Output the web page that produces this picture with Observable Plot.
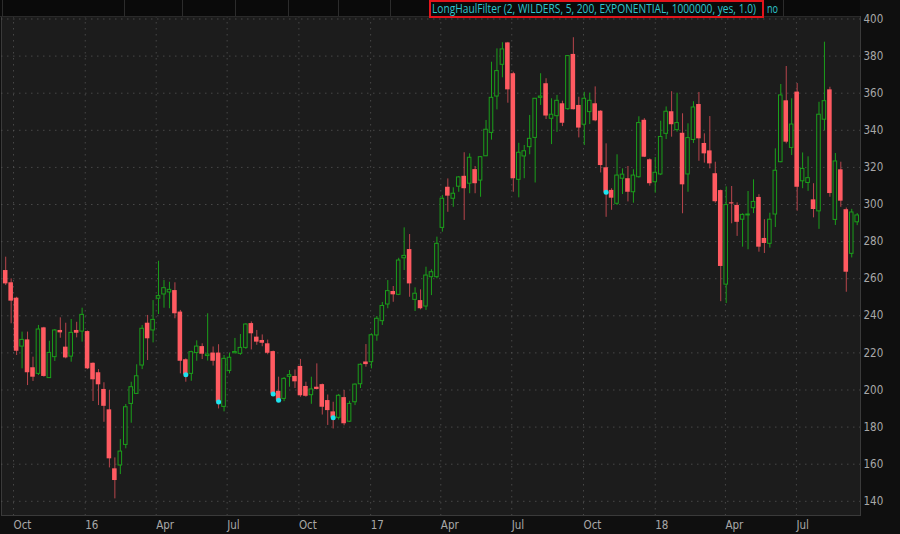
<!DOCTYPE html>
<html><head><meta charset="utf-8">
<script src="https://cdn.jsdelivr.net/npm/d3@7"></script>
<script src="https://cdn.jsdelivr.net/npm/@observablehq/plot@0.6"></script>
<style>
html,body{margin:0;padding:0;background:#0f0f0f;}
#wrap{position:relative;width:900px;height:534px;overflow:hidden;}
#chart{position:absolute;left:0;top:0;}
#header{position:absolute;left:0;top:0;width:860px;height:16px;background:#0a0a0a;border-bottom:1px solid #2a2a2a;}
.sep{position:absolute;top:0;height:16px;width:1px;background:#2c2c2c;}
#study{position:absolute;left:429px;top:0px;width:331px;height:14px;border:2px solid #e3141b;}
.htext{position:absolute;left:1px;top:-1px;color:#2fc7cf;font-family:"Open Sans",sans-serif;font-size:12px;line-height:16px;white-space:nowrap;transform-origin:0 50%;}
#no{position:absolute;left:767px;top:1px;height:14px;width:14px;}
#no .htext{left:0;top:0px;}
</style></head>
<body>
<div id="wrap">
<div id="chart"></div>
<div id="header"></div>
</div>
<script>
// weekly candles, first week starting 2015-09-21
const firstWeek = "2015-09-21";
const open = [264.4,257.8,249.5,223.4,227.0,212.0,208.7,233.5,206.4,217.7,
232.1,223.1,218.0,232.1,231.5,231.5,214.4,209.3,200.3,189.3,
157.5,159.3,170.4,192.5,197.9,213.2,236.0,232.1,249.2,251.5,
252.6,253.6,242.0,216.3,208.7,219.9,223.4,218.3,219.9,219.9,
190.9,210.3,219.8,219.5,222.7,235.8,228.5,226.7,224.9,220.7,
199.3,195.2,207.1,207.3,212.7,201.9,197.2,201.5,202.9,194.3,
188.2,185.0,195.9,182.9,193.4,203.1,215.1,215.0,229.4,237.1,
246.1,253.1,251.3,271.0,275.7,248.6,248.2,245.0,260.8,260.8,
287.4,309.3,303.1,309.6,315.2,311.2,318.8,312.9,326.0,338.6,
358.2,375.3,387.1,370.5,313.3,325.9,330.9,335.9,357.5,365.1,
346.2,347.6,354.3,351.4,380.9,353.4,343.0,349.8,354.3,350.3,
319.8,307.6,300.4,313.9,313.9,306.6,314.7,345.4,324.1,312.0,
316.2,338.1,350.0,340.1,338.4,316.2,334.8,353.9,332.9,328.9,
316.6,307.5,256.8,300.9,299.5,291.8,294.1,298.0,303.8,281.7,
278.8,294.6,322.8,355.9,330.5,360.6,312.5,311.6,302.5,296.3,
345.7,361.8,291.7,318.7,297.2,273.4,290.4];
const high = [271.6,259.9,250.0,231.2,231.2,217.7,234.8,233.8,226.3,232.6,
238.9,236.0,238.0,236.5,244.1,231.8,214.6,211.0,203.9,199.7,
163.4,173.3,192.2,204.2,213.6,234.8,240.2,248.2,269.4,259.0,
258.1,257.8,242.9,216.8,220.9,226.5,224.9,241.1,223.2,224.4,
218.6,219.8,227.8,229.9,235.7,236.7,232.1,229.7,226.9,221.0,
206.9,206.7,210.5,210.8,216.5,204.2,206.9,214.1,203.2,197.3,
193.4,197.6,199.7,193.9,203.3,214.1,224.5,230.3,239.6,247.2,
259.0,255.8,271.0,287.4,283.8,255.1,254.0,266.2,264.8,282.4,
304.9,313.8,309.0,315.1,327.9,327.3,320.5,325.9,345.3,376.7,
383.9,387.2,387.4,371.3,333.0,331.8,348.0,357.1,370.5,367.8,
357.0,358.8,355.7,380.3,389.9,357.8,360.5,360.0,363.4,350.6,
332.7,308.5,326.8,319.2,320.5,318.7,347.3,346.3,324.6,325.3,
344.9,352.6,360.8,360.0,348.9,343.5,355.4,360.4,338.1,347.4,
322.8,307.8,309.5,309.7,300.9,295.0,307.0,313.3,305.3,291.8,
295.3,330.0,364.7,374.4,357.0,365.2,327.8,325.7,311.2,355.1,
387.5,363.2,327.5,322.8,298.1,297.4,295.1];
const low = [256.3,235.7,218.6,211.4,202.4,204.6,207.8,206.9,206.4,215.4,
227.9,216.8,215.0,228.1,225.8,211.0,193.8,191.6,182.6,158.0,
141.3,154.4,168.3,182.1,197.6,211.0,215.9,225.4,240.7,244.1,
243.8,238.4,208.7,204.2,204.7,215.5,216.4,215.6,212.9,189.8,
188.2,208.7,219.6,218.7,221.9,221.6,224.1,223.3,219.0,197.2,
194.1,193.7,201.5,200.8,196.1,196.1,192.3,200.0,186.5,180.9,
179.0,183.8,180.7,182.5,191.6,200.8,212.3,211.4,226.3,234.8,
243.8,247.3,250.9,264.4,250.0,242.3,243.2,242.9,250.9,259.9,
285.1,295.8,298.5,306.6,291.4,305.8,305.8,303.9,325.8,334.7,
351.0,368.3,354.6,306.6,303.6,313.9,326.8,311.6,353.4,345.8,
332.3,338.9,342.0,350.7,351.0,335.9,331.8,343.1,344.6,317.0,
293.1,296.9,299.5,305.4,301.4,300.7,314.2,325.3,309.9,306.1,
315.6,335.0,336.3,339.0,295.0,306.6,332.9,323.3,322.3,319.2,
300.7,247.6,246.6,289.6,282.8,277.0,275.6,295.1,274.3,273.6,
276.5,287.6,322.5,332.7,326.4,296.4,308.5,307.1,292.8,286.6,
339.7,303.9,288.7,298.5,252.7,271.2,288.6];
const close = [257.2,247.9,220.9,227.0,209.3,206.9,232.6,207.3,220.0,232.1,
230.8,217.3,230.8,230.6,240.5,211.4,205.5,202.8,191.2,162.9,
151.2,166.8,190.7,201.5,207.4,233.0,227.6,237.8,250.6,254.9,
254.0,241.1,215.5,208.2,220.4,223.4,219.3,219.1,215.5,193.5,
216.8,217.4,220.5,222.7,235.3,230.3,225.8,225.2,219.8,197.9,
194.5,206.0,208.0,204.4,196.9,196.6,200.3,200.3,190.7,188.9,
185.0,196.9,181.8,192.5,202.9,213.6,213.7,229.5,238.4,245.3,
253.3,251.3,269.8,272.3,257.2,251.9,243.8,261.7,263.5,278.8,
303.1,304.5,305.8,314.6,308.5,325.2,311.2,325.5,340.3,357.5,
371.9,383.6,361.8,313.9,327.9,328.7,335.4,357.0,358.2,347.7,
348.4,355.9,343.8,380.0,351.1,341.2,357.0,355.9,345.1,321.0,
306.6,303.4,315.6,316.1,306.6,315.6,343.9,325.5,311.2,317.1,
336.4,350.0,343.0,343.9,310.6,335.8,352.3,335.4,327.3,321.9,
301.5,266.6,299.7,300.3,290.4,294.4,294.6,301.4,277.0,279.0,
291.8,318.2,358.8,333.6,343.1,309.3,319.2,314.2,297.3,348.4,
355.7,305.9,323.2,301.8,263.5,295.7,294.1];
// weeks (index) where the LongHaulFilter study marks a signal
const signalWeeks = [33, 39, 49, 50, 60, 110];
// axes
const yTicks = [140,160,180,200,220,240,260,280,300,320,340,360,380,400];
const quarterDates = ["2015-10-01","2016-01-01","2016-04-01","2016-07-01","2016-10-01","2017-01-01","2017-04-01","2017-07-01","2017-10-01","2018-01-01","2018-04-01","2018-07-01"];
const quarterLabels = ["Oct","16","Apr","Jul","Oct","17","Apr","Jul","Oct","18","Apr","Jul"];
const studyLabel = "LongHaulFilter (2, WILDERS, 5, 200, EXPONENTIAL, 1000000, yes, 1.0)";
const studyValue = "no";
const headerCells = [2, 124, 182, 235, 288, 338, 390, 783];

const start = new Date(firstWeek + "T00:00:00Z");
const candles = open.map((o, i) => ({
  date: d3.utcDay.offset(start, 7 * i),
  open: o, high: high[i], low: low[i], close: close[i],
  up: close[i] >= open[i], signal: signalWeeks.includes(i)
}));
const qDates = quarterDates.map(s => new Date(s + "T00:00:00Z"));
const qLabel = new Map(qDates.map((d, i) => [+d, quarterLabels[i]]));
const half = 3.5 * 864e5;
const GREEN = "#1b9f1b", RED = "#ff5a61", REDWICK = "#b8454c", BG = "#1c1c1c", CYAN = "#1fe3ef";
const font = '"Liberation Sans Narrow","DejaVu Sans Condensed","Open Sans",sans-serif';

const up = candles.filter(d => d.up), down = candles.filter(d => !d.up);
const chart = Plot.plot({
  width: 900, height: 534,
  marginTop: 16, marginBottom: 19, marginLeft: 1, marginRight: 40,
  style: {background: "#0f0f0f", color: "#a8a8a8", fontFamily: font, fontSize: "11.5px", fontStretch: "condensed"},
  x: {type: "utc", domain: [candles[0].date, candles[candles.length - 1].date], range: [5.2, 856.7]},
  y: {domain: [140, 400], range: [500.8, 18.5]},
  marks: [
    Plot.frame({fill: BG, stroke: "#3a3a3a"}),
    Plot.gridY(yTicks, {stroke: "#5a5a5a", strokeOpacity: 0.7, strokeDasharray: "1.5,4.5"}),
    Plot.gridX(qDates, {stroke: "#5a5a5a", strokeOpacity: 0.7, strokeDasharray: "1.5,4.5"}),
    Plot.ruleX(down, {x: "date", y1: "low", y2: "high", stroke: REDWICK, strokeWidth: 1}),
    Plot.ruleX(up, {x: "date", y1: "low", y2: "high", stroke: GREEN, strokeWidth: 1}),
    Plot.rect(down, {x1: d => new Date(+d.date - half), x2: d => new Date(+d.date + half), y1: "open", y2: "close", fill: RED, insetLeft: 0.45, insetRight: 0.45}),
    Plot.rect(up, {x1: d => new Date(+d.date - half), x2: d => new Date(+d.date + half), y1: "open", y2: "close", fill: BG, stroke: GREEN, strokeWidth: 1, insetLeft: 0.95, insetRight: 0.95}),
    Plot.dot(candles.filter(d => d.signal), {x: "date", y: "close", r: 2.5, fill: CYAN}),
    Plot.axisY(yTicks, {anchor: "right", tickSize: 0, tickPadding: 3, fill: "#a8a8a8", label: null}),
    Plot.axisX(qDates, {anchor: "bottom", tickSize: 0, tickPadding: 5, textAnchor: "start", dx: 0, fill: "#a8a8a8", tickFormat: d => qLabel.get(+d), label: null})
  ]
});
document.getElementById("chart").appendChild(chart);

const header = document.getElementById("header");
headerCells.forEach(x => {
  const s = document.createElement("div");
  s.className = "sep"; s.style.left = x + "px"; header.appendChild(s);
});
function fitText(parent, text, targetWidth) {
  const span = document.createElement("span");
  span.className = "htext"; span.textContent = text;
  parent.appendChild(span);
  const w = span.getBoundingClientRect().width;
  if (w > 0) span.style.transform = "scaleX(" + (targetWidth / w) + ")";
}
const study = document.createElement("div");
study.id = "study"; header.appendChild(study);
fitText(study, studyLabel, 324);
const no = document.createElement("div");
no.id = "no"; header.appendChild(no);
fitText(no, studyValue, 11);
</script>
</body></html>
